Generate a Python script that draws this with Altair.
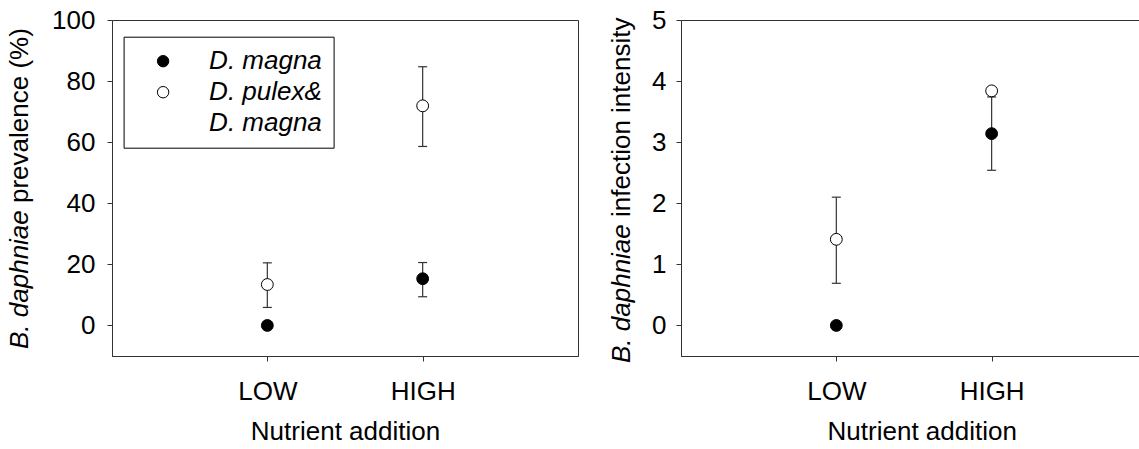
import json
import altair as alt
import pandas as pd

# ---------------- data ----------------
levels = ["LOW", "HIGH"]
level_pos = [1, 2]
series_keys = ["magna", "pulex", "blank"]
PAD = "\u00a0\u00a0\u00a0"
series_labels = ["D. magna" + PAD, "D. pulex&" + PAD, "D. magna" + PAD]

# Panel A: B. daphniae prevalence (%)
prev_magna = [0.0, 15.3]
prev_magna_lo = [0.0, 9.4]
prev_magna_hi = [0.0, 20.6]
prev_pulex = [13.4, 71.9]
prev_pulex_lo = [5.9, 58.6]
prev_pulex_hi = [20.5, 84.7]

# Panel B: B. daphniae infection intensity
int_magna = [0.0, 3.14]
int_magna_lo = [0.0, 2.54]
int_magna_hi = [0.0, 3.74]
int_pulex = [1.41, 3.84]
int_pulex_lo = [0.69, 3.79]
int_pulex_hi = [2.10, 3.89]

prev_ticks = [0, 20, 40, 60, 80, 100]
int_ticks = [0, 1, 2, 3, 4, 5]

FONT = "Liberation Sans"
LINE = "#333333"
FS = 26


def frames(m, mlo, mhi, p, plo, phi):
    rows = []
    for s, mean, lo, hi in (("magna", m, mlo, mhi), ("pulex", p, plo, phi)):
        for i in range(len(levels)):
            rows.append({"pos": level_pos[i], "series": s, "mean": mean[i],
                         "lo": lo[i], "hi": hi[i]})
    pts = pd.DataFrame(rows)
    err = pts[pts["hi"] > pts["lo"]].copy()
    caps = pd.concat([
        err[["pos", "series", "lo"]].rename(columns={"lo": "v"}),
        err[["pos", "series", "hi"]].rename(columns={"hi": "v"}),
    ], ignore_index=True)
    return pts, err, caps


label_js = json.dumps(levels)
pos_js = json.dumps(level_pos)
leg_label_expr = (
    f"{json.dumps(series_labels)}[indexof({json.dumps(series_keys)}, datum.value)]"
)


def panel(pts, err, caps, ydom, yticks, ylab_pad, show_legend, xmax, width,
          title_x, title_y0, title_y1, rest):
    xsc = alt.Scale(domain=[0, xmax], nice=False, zero=False)
    ysc = alt.Scale(domain=ydom, nice=False, zero=False)
    xax = alt.Axis(values=level_pos,
                   labelExpr=f"{label_js}[indexof({pos_js}, datum.value)]",
                   title="Nutrient addition", grid=False, tickSize=5,
                   labelPadding=17, labelFont=FONT, labelFontSize=FS,
                   labelColor="black", titleFont=FONT, titleFontSize=FS,
                   titleFontWeight="normal", titleColor="black", titlePadding=14,
                   domainColor=LINE, tickColor=LINE)
    yax = alt.Axis(values=yticks, title=None, grid=False, tickSize=5,
                   labelPadding=ylab_pad, labelFont=FONT, labelFontSize=FS,
                   labelColor="black", domainColor=LINE, tickColor=LINE)

    if show_legend:
        leg = alt.Legend(title=None, orient="none", legendX=11.6, legendY=16.7,
                         strokeColor="black", fillColor="white", padding=11.5,
                         symbolOffset=15, labelOffset=33, rowPadding=5,
                         labelFont=FONT, labelFontSize=FS, labelFontStyle="italic",
                         labelColor="black", symbolSize=130, symbolStrokeWidth=1,
                         symbolType="circle", labelExpr=leg_label_expr,
                         cornerRadius=0, labelLimit=400)
    else:
        leg = None

    fill_sc = alt.Scale(domain=series_keys, range=["black", "white", "transparent"])
    stroke_sc = alt.Scale(domain=series_keys, range=["black", "black", "transparent"])

    rules = alt.Chart(err).mark_rule(color=LINE, strokeWidth=1.2).encode(
        x=alt.X("pos:Q", scale=xsc, axis=xax),
        y=alt.Y("lo:Q", scale=ysc, axis=yax),
        y2="hi:Q",
    )
    capm = alt.Chart(caps).mark_tick(color=LINE, thickness=1.2, size=9,
                                     orient="horizontal", opacity=1).encode(
        x=alt.X("pos:Q", scale=xsc, axis=xax),
        y=alt.Y("v:Q", scale=ysc, axis=yax),
    )
    points = alt.Chart(pts).mark_point(filled=True, size=140, strokeWidth=1,
                                       opacity=1).encode(
        x=alt.X("pos:Q", scale=xsc, axis=xax),
        y=alt.Y("mean:Q", scale=ysc, axis=yax),
        fill=alt.Fill("series:N", scale=fill_sc, legend=leg),
        stroke=alt.Stroke("series:N", scale=stroke_sc, legend=leg),
    )
    t_italic = alt.Chart(pd.DataFrame({"t": ["B. daphniae"]})).mark_text(
        angle=270, align="left", baseline="alphabetic", font=FONT, fontSize=FS,
        fontStyle="italic", color="black").encode(
        x=alt.value(title_x), y=alt.value(title_y0), text="t:N")
    t_rest = alt.Chart(pd.DataFrame({"t": [rest]})).mark_text(
        angle=270, align="left", baseline="alphabetic", font=FONT, fontSize=FS,
        color="black").encode(
        x=alt.value(title_x), y=alt.value(title_y1), text="t:N")
    return alt.layer(rules, capm, points, t_italic, t_rest).properties(
        width=width, height=336)


pA, eA, cA = frames(prev_magna, prev_magna_lo, prev_magna_hi,
                    prev_pulex, prev_pulex_lo, prev_pulex_hi)
pB, eB, cB = frames(int_magna, int_magna_lo, int_magna_hi,
                    int_pulex, int_pulex_lo, int_pulex_hi)

left = panel(pA, eA, cA, [-10, 100], prev_ticks, 12, True, 3, 466, -84, 329, 183,
             "prevalence (%)")
# the right panel's frame runs past the picture's right edge in the reference
right = panel(pB, eB, cB, [-0.5, 5], int_ticks, 10, False, 3.1, 481.5, -51, 343, 197,
              "infection intensity")

chart = alt.hconcat(left, right, spacing=29).resolve_scale(
    fill="independent", stroke="independent"
).resolve_legend(
    fill="independent", stroke="independent"
).properties(
    padding={"left": 6, "top": 6, "right": -24, "bottom": 0},
    background="white",
).configure_view(
    stroke=LINE, strokeWidth=1
)

chart.save("out.html", embed_options={"renderer": "svg", "actions": False})
